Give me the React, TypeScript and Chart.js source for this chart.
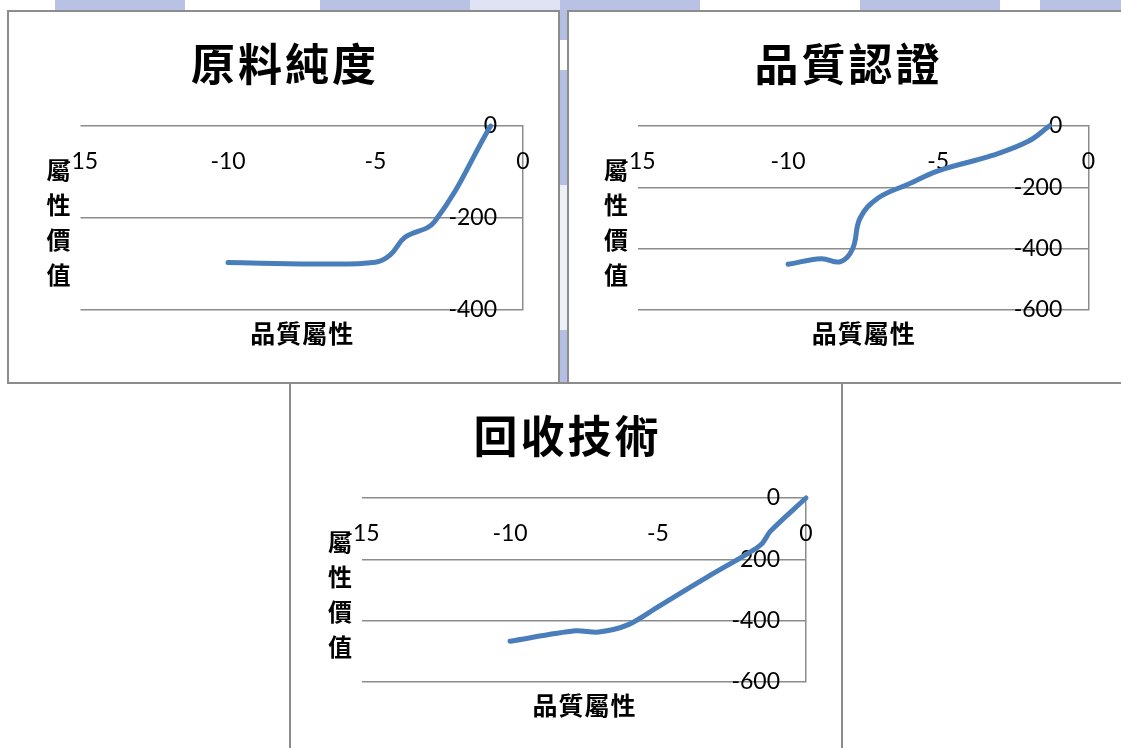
import React, { useEffect, useRef } from "react";
import { Chart, registerables } from "chart.js";

Chart.register(...registerables);

// Shared axis content
const xTickValues = [-15, -10, -5, 0];
const xAxisTitle = "品質屬性";
const yAxisTitle = "屬性價值";

// 原料純度
const purityTitle = "原料純度";
const purityX = [-10, -7, -5, -4.5, -4, -3, -1.1];
const purityY = [-297, -300, -296, -280, -242, -208, 0];
const purityYTicks = [0, -200, -400];

// 品質認證
const certTitle = "品質認證";
const certX = [-10, -8.9, -8.25, -7.85, -7.6, -7.0, -6.0, -5, -3.2, -2, -1.3];
const certY = [-451, -433, -442, -400, -300, -235, -190, -146, -96, -50, 0];
const certYTicks = [0, -200, -400, -600];

// 回收技術
const recycleTitle = "回收技術";
const recycleX = [-10, -7.8, -7, -6, -5, -3.2, -2, -1.5, -1.2, 0];
const recycleY = [-467, -433, -437, -413, -355, -250, -183, -150, -108, 0];
const recycleYTicks = [0, -200, -400, -600];

const CJK = "'Noto Sans CJK TC', 'Noto Sans CJK SC', sans-serif";
const NUM = "Lato, 'Open Sans', sans-serif";
const GRID = "#8c8c8c";
const LINE = "#4a7ebb";

type PanelProps = {
  left: number;
  top: number;
  width: number;
  height: number;
  title: string;
  xs: number[];
  ys: number[];
  yTicks: number[];
  padLeft: number;
  padRight: number;
  tension: number;
};

function Panel({ left, top, width, height, title, xs, ys, yTicks, padLeft, padRight, tension }: PanelProps) {
  const ref = useRef<HTMLCanvasElement>(null);

  useEffect(() => {
    const canvas = ref.current;
    if (!canvas) return;
    const yMin = Math.min(...yTicks);
    const yMax = Math.max(...yTicks);

    const textPlugin = {
      id: "panelText",
      beforeDatasetsDraw(chart: any) {
        const { ctx, chartArea, scales } = chart;
        const sx = scales.x;
        const sy = scales.y;
        ctx.save();
        ctx.fillStyle = "#000";
        ctx.textBaseline = "middle";
        ctx.textAlign = "center";

        // chart title, one glyph at a time for the wide spacing
        ctx.font = `bold 44px ${CJK}`;
        const tChars = Array.from(title);
        const cx = chart.width / 2;
        tChars.forEach((ch, i) => {
          ctx.fillText(ch, cx + (i - (tChars.length - 1) / 2) * 47, chartArea.top - 62);
        });

        // horizontal axis tick labels, set just under the zero line
        ctx.font = `23px ${NUM}`;
        xTickValues.forEach((v) => {
          ctx.fillText(String(v), sx.getPixelForValue(v), chartArea.top + 36);
        });

        // vertical axis tick labels, left of the axis line at x = 0
        ctx.textAlign = "right";
        yTicks.forEach((v) => {
          ctx.fillText(String(v), chartArea.right - 26, sy.getPixelForValue(v));
        });

        // axis titles
        ctx.textAlign = "center";
        ctx.font = `bold 24px ${CJK}`;
        Array.from(yAxisTitle).forEach((ch, i) => {
          ctx.fillText(ch, chartArea.left - 22, chartArea.top + 44 + i * 35);
        });
        ctx.font = `bold 25px ${CJK}`;
        const mid = (chartArea.left + chartArea.right) / 2;
        const xChars = Array.from(xAxisTitle);
        xChars.forEach((ch, i) => {
          ctx.fillText(ch, mid + (i - (xChars.length - 1) / 2) * 26, chartArea.bottom + 23);
        });
        ctx.restore();
      },
    };

    const chart = new Chart(canvas, {
      type: "scatter",
      data: {
        datasets: [
          {
            data: xs.map((x, i) => ({ x, y: ys[i] })),
            showLine: true,
            borderColor: LINE,
            backgroundColor: LINE,
            borderWidth: 5,
            pointRadius: 0,
            pointHoverRadius: 0,
            tension,
            borderCapStyle: "round",
            borderJoinStyle: "round",
            fill: false,
            clip: false,
          } as any,
        ],
      },
      options: {
        responsive: false,
        animation: false,
        events: [],
        layout: { padding: { left: padLeft, right: padRight, top: 114, bottom: 72 } },
        plugins: {
          legend: { display: false },
          title: { display: false },
          tooltip: { enabled: false },
        },
        scales: {
          x: {
            type: "linear",
            min: -15,
            max: 0,
            grid: { display: false, drawTicks: false },
            border: { display: false },
            ticks: { display: false },
          },
          y: {
            type: "linear",
            position: "right",
            min: yMin,
            max: yMax,
            ticks: { display: false, stepSize: 200 },
            grid: { color: GRID, lineWidth: 1.5, drawTicks: false },
            border: { display: true, color: GRID, width: 1.5 },
          },
        },
      },
      plugins: [textPlugin],
    });

    return () => chart.destroy();
  }, [title, xs, ys, yTicks, padLeft, padRight, tension]);

  return (
    <div
      style={{
        position: "absolute",
        left,
        top,
        width,
        height,
        boxSizing: "border-box",
        border: `2px solid ${GRID}`,
        background: "#fff",
      }}
    >
      <canvas ref={ref} width={width - 4} height={height - 4} style={{ display: "block" }} />
    </div>
  );
}

export default function App() {
  return (
    <div
      style={{
        position: "fixed",
        left: 0,
        top: 0,
        width: 1121,
        height: 748,
        overflow: "hidden",
        background: "#fff",
      }}
    >
      {/* page backdrop visible above and between the panels */}
      <div
        style={{
          position: "absolute",
          left: 0,
          top: 0,
          width: 1121,
          height: 12,
          background:
            "linear-gradient(90deg, #fff 0 55px, #b9c2e4 55px 185px, #fff 185px 320px, #b9c2e4 320px 470px, #dfe3f3 470px 560px, #b9c2e4 560px 700px, #fff 700px 860px, #b9c2e4 860px 1000px, #fff 1000px 1040px, #b9c2e4 1040px 1121px)",
        }}
      />
      <div
        style={{
          position: "absolute",
          left: 559,
          top: 10,
          width: 9,
          height: 374,
          background:
            "linear-gradient(180deg, #b5bfe2 0 30px, #fff 30px 60px, #b5bfe2 60px 175px, #eef0f8 175px 320px, #b5bfe2 320px 374px)",
        }}
      />
      <Panel
        left={7}
        top={10}
        width={553}
        height={374}
        title={purityTitle}
        xs={purityX}
        ys={purityY}
        yTicks={purityYTicks}
        padLeft={71.5}
        padRight={35}
        tension={0.4}
      />
      <Panel
        left={567}
        top={10}
        width={560}
        height={374}
        title={certTitle}
        xs={certX}
        ys={certY}
        yTicks={certYTicks}
        padLeft={69}
        padRight={36.7}
        tension={0.4}
      />
      <Panel
        left={289}
        top={382}
        width={554}
        height={374}
        title={recycleTitle}
        xs={recycleX}
        ys={recycleY}
        yTicks={recycleYTicks}
        padLeft={71}
        padRight={35}
        tension={0.3}
      />
    </div>
  );
}
